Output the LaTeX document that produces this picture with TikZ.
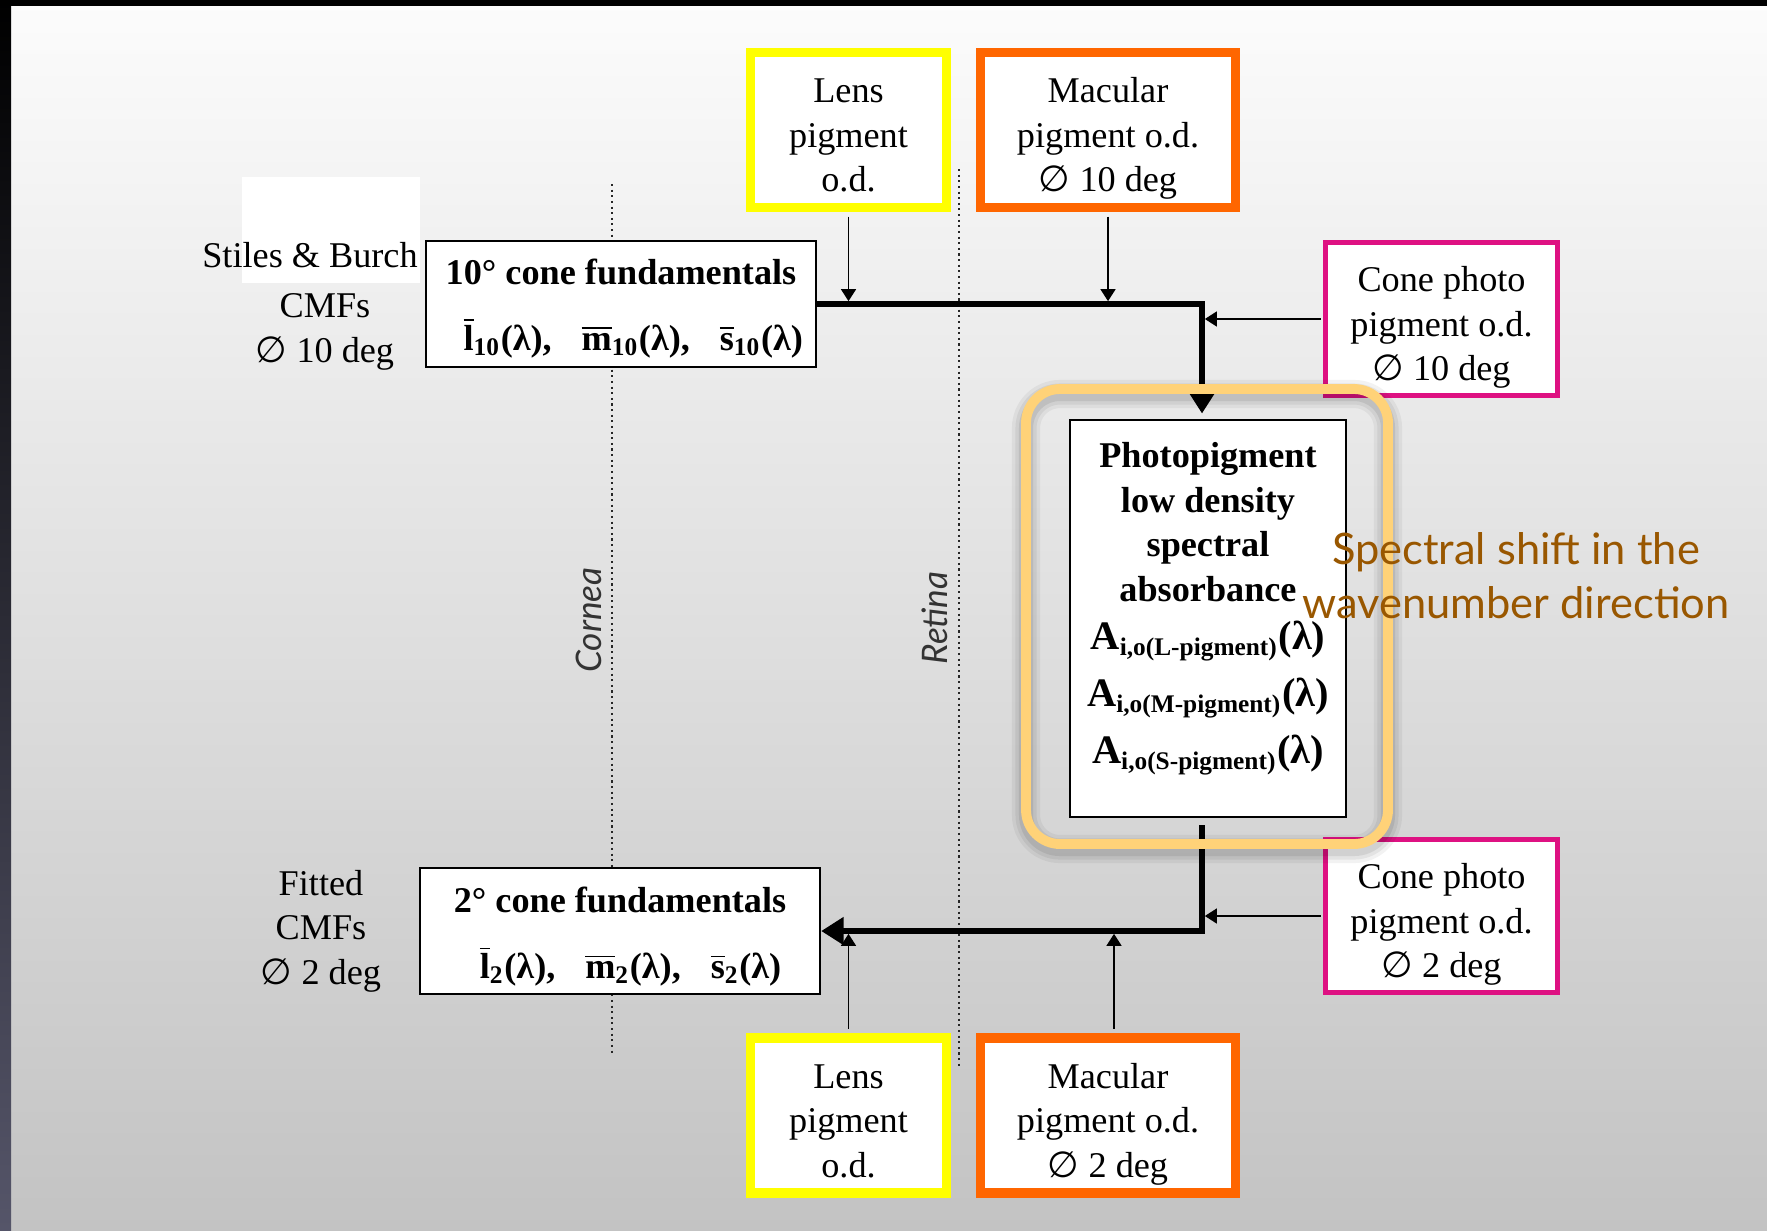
\documentclass[tikz,border=0pt]{standalone}
\usepackage{fontspec}
\usepackage{amsmath}
\setmainfont{Liberation Serif}
\newfontfamily\gillfont{Lato}
\newfontfamily\symfont{DejaVu Sans}
\usetikzlibrary{arrows.meta}

\definecolor{lensyellow}{RGB}{255,255,0}
\definecolor{macorange}{RGB}{255,102,0}
\definecolor{conemagenta}{RGB}{222,17,130}
\definecolor{shiftbrown}{RGB}{153,87,0}
\definecolor{glowgold}{RGB}{255,210,120}
\definecolor{slate}{RGB}{85,85,105}

\newcommand{\boxfont}{\fontsize{10.3}{12.7}\selectfont}
\newcommand{\diam}{\smash{\symfont ∅}}
\newcommand{\lift}[1]{\rule{0pt}{#1}}
\newcommand{\cf}[2]{$\overline{\text{#1}}_{\text{#2}}$(λ)}
\newcommand{\cfgap}{\hspace{8.5pt}}
\newcommand{\absorb}[1]{{\fontsize{11.5}{14}\selectfont A}$_{\text{i,o(#1-pigment)}}${\fontsize{11.5}{14}\selectfont(λ)}}

\tikzset{
  every node/.style={font=\boxfont, align=center},
  fundbox/.style={draw, fill=white, line width=0.6pt, font=\boxfont\bfseries,
    inner ysep=0pt, minimum width=3.9cm, minimum height=1.26cm},
  lensbox/.style={draw=lensyellow, fill=white, line width=2.6pt, inner ysep=0pt,
    minimum width=1.96cm, minimum height=1.55cm},
  macbox/.style={draw=macorange, fill=white, line width=2.6pt, inner ysep=0pt,
    minimum width=2.55cm, minimum height=1.55cm},
  conebox/.style={draw=conemagenta, fill=white, line width=1.4pt, inner ysep=0pt,
    minimum width=2.32cm, minimum height=1.53cm},
  thickline/.style={line width=1.6pt, -{Triangle[width=7.6pt,length=6.4pt]}},
  thinarrow/.style={line width=0.55pt, -{Triangle[width=4.2pt,length=3.4pt]},
    shorten >=0.8pt},
  eyeline/.style={densely dotted, line width=0.6pt, black!85},
  eyelabel/.style={rotate=90, font=\gillfont\itshape\fontsize{10}{12}\selectfont, text=black!80}
}

\begin{document}
\begin{tikzpicture}[x=0.01cm, y=-0.01cm]
\useasboundingbox (0,0) rectangle (1767,1230);
% slide background
\shade[top color={rgb,255:red,252;green,252;blue,252}, bottom color={rgb,255:red,195;green,195;blue,195}] (0,0) rectangle (1767,1230);
\fill[black] (0,0) rectangle (1767,6);
\shade[top color=black, bottom color=slate] (0,0) rectangle (11,1230);
\fill[white] (242,177) rectangle (420,283);

% cornea and retina
\coordinate (corneatop) at (612,184);
\coordinate (corneabot) at (612,1054);
\coordinate (retinatop) at (959,169);
\coordinate (retinabot) at (959,1068);
\draw[eyeline] (corneatop) -- (corneabot);
\draw[eyeline] (retinatop) -- (retinabot);
\node[eyelabel] (cornea) at (589,620) {Cornea};
\node[eyelabel] (retina) at (935,618) {Retina};

% 10 deg path
\node[lensbox] (lens10) at (848.5,130) {\lift{10pt}Lens\\pigment\\o.d.};
\node[macbox] (mac10) at (1108,130) {\lift{12pt}Macular\\pigment o.d.\\\diam{} 10 deg};
\node[conebox] (cone10) at (1441.5,319) {\lift{12pt}Cone photo\\pigment o.d.\\\diam{} 10 deg};
\node[fundbox] (fund10) at (621,304) {\lift{9.7pt}10° cone fundamentals\\[6pt]\hspace*{7pt}\cf{l}{10},\cfgap\cf{m}{10},\cfgap\cf{s}{10}};
\node (sbname) at (310,255) {Stiles \& Burch};
\node (sbcmf) at (325,332) {CMFs\\\diam{} 10 deg};

% photopigment
\node[draw, fill=white, line width=0.6pt, minimum width=2.76cm, minimum height=3.97cm] (photo) at (1208,618.5) {};
\node[font=\boxfont\bfseries] (phototext) at (1208,608.5)
  {Photopigment\\low density\\spectral\\absorbance\\[1pt]\absorb{L}\\[3.5pt]\absorb{M}\\[3.5pt]\absorb{S}};

% 2 deg path
\node[lensbox] (lens2) at (848.5,1115.5) {\lift{10pt}Lens\\pigment\\o.d.};
\node[macbox] (mac2) at (1108,1115.5) {\lift{12pt}Macular\\pigment o.d.\\\diam{} 2 deg};
\node[conebox] (cone2) at (1441.5,916) {\lift{12pt}Cone photo\\pigment o.d.\\\diam{} 2 deg};
\node[fundbox, minimum width=4cm] (fund2) at (620,931) {\lift{10.5pt}2° cone fundamentals\\[6pt]\hspace*{6pt}\cf{l}{2},\cfgap\cf{m}{2},\cfgap\cf{s}{2}};
\node (fitcmf) at (321,931) {Fitted\\CMFs\\\diam{} 2 deg};

% connectors
\coordinate (spine) at ([xshift=-0.06cm]photo.north);
\draw[thickline, shorten >=1.5pt] (fund10.east) -| (spine);
\draw[thickline] ([xshift=-0.06cm, yshift=-0.07cm]photo.south) |- (fund2.east);
\draw[thinarrow, shorten <=1.3pt] (lens10.south) -- (lens10.south |- fund10.east);
\draw[thinarrow, shorten <=1.3pt] (mac10.south) -- (mac10.south |- fund10.east);
\draw[thinarrow, shorten <=0.7pt] (cone10.west) -- (spine |- cone10.west);
\draw[thinarrow, shorten <=0.7pt] (cone2.west) -- (spine |- cone2.west);
\draw[thinarrow, shorten <=1.3pt] (lens2.north) -- (lens2.north |- fund2.east);
\draw[thinarrow, shorten <=1.3pt] ([xshift=0.06cm]mac2.north) -- ([xshift=0.06cm]mac2.north |- fund2.east);

% highlight
\coordinate (glowNW) at (1026,389);
\coordinate (glowSE) at (1388,844);
\foreach \w/\o in {8pt/0.05, 6pt/0.06, 4pt/0.08}
  \draw[black, opacity=\o, line width=\w, rounded corners=0.34cm] ([yshift=-0.05cm]glowNW) rectangle ([yshift=-0.05cm]glowSE);
\draw[glowgold, line width=2.8pt, rounded corners=0.34cm] (glowNW) rectangle (glowSE);
\node[font=\gillfont\fontsize{12.35}{15.3}\selectfont, text=shiftbrown] (shift) at (1516,576) {Spectral shift in the\\wavenumber direction};
\end{tikzpicture}
\end{document}
